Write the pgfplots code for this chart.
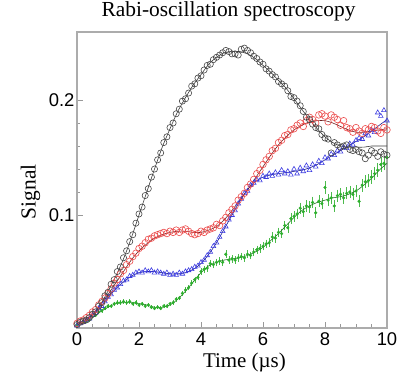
\documentclass[border=0pt]{standalone}
\usepackage{pgfplots}
\pgfplotsset{compat=1.18}
\usepackage{pgfplotstable}
\usepackage{fontspec}
\setmainfont{Liberation Serif}
\newfontfamily\tickfont{Liberation Sans}
\definecolor{cK}{RGB}{70,70,70}
\definecolor{cR}{RGB}{235,75,75}
\definecolor{cB}{RGB}{60,60,225}
\definecolor{cG}{RGB}{45,175,45}
\definecolor{fK}{RGB}{60,60,60}
\definecolor{fR}{RGB}{110,30,30}
\definecolor{fB}{RGB}{30,30,140}
\definecolor{fG}{RGB}{30,120,30}

\pgfplotstableread{
x y
0.0 .005
0.1 .007
0.2 .008
0.3 .009
0.4 .011
0.5 .014
0.6 .016
0.7 .021
0.8 .024
0.9 .030
1.0 .033
1.1 .040
1.2 .044
1.3 .051
1.4 .055
1.5 .063
1.6 .069
1.7 .077
1.8 .083
1.9 .093
2.0 .101
2.1 .107
2.2 .117
2.3 .123
2.4 .133
2.5 .140
2.6 .148
2.7 .154
2.8 .163
2.9 .168
3.0 .176
3.1 .180
3.2 .188
3.3 .192
3.4 .199
3.5 .201
3.6 .206
3.7 .212
3.8 .214
3.9 .219
4.0 .221
4.1 .226
4.2 .230
4.3 .231
4.4 .235
4.5 .237
4.6 .239
4.7 .241
4.8 .243
4.9 .242
5.0 .240
5.1 .240
5.2 .239
5.3 .244
5.4 .245
5.5 .243
5.6 .241
5.7 .238
5.8 .236
5.9 .233
6.0 .231
6.1 .227
6.2 .225
6.3 .222
6.4 .220
6.5 .216
6.6 .214
6.7 .212
6.8 .208
6.9 .203
7.0 .202
7.1 .199
7.2 .195
7.3 .190
7.4 .185
7.5 .183
7.6 .179
7.7 .176
7.8 .175
7.9 .170
8.0 .167
8.1 .166
8.2 .154
8.3 .163
8.4 .161
8.5 .159
8.6 .160
8.7 .161
8.8 .157
8.9 .156
9.0 .157
9.1 .155
9.2 .154
9.3 .149
9.4 .152
9.5 .156
9.6 .154
9.7 .151
9.8 .155
9.9 .153
10.0 .152
}\blackdata

\pgfplotstableread{
x y
0.0 .006
0.1 .008
0.2 .009
0.3 .011
0.4 .013
0.5 .016
0.6 .018
0.7 .022
0.8 .025
0.9 .028
1.0 .032
1.1 .036
1.2 .041
1.3 .044
1.4 .049
1.5 .052
1.6 .057
1.7 .060
1.8 .064
1.9 .067
2.0 .071
2.1 .073
2.2 .076
2.3 .079
2.4 .080
2.5 .082
2.6 .083
2.7 .084
2.8 .085
2.9 .084
3.0 .086
3.1 .085
3.2 .087
3.3 .085
3.4 .087
3.5 .088
3.6 .086
3.7 .084
3.8 .083
3.9 .084
4.0 .086
4.1 .085
4.2 .087
4.3 .088
4.4 .089
4.5 .092
4.6 .091
4.7 .095
4.8 .098
4.9 .102
5.0 .105
5.1 .108
5.2 .113
5.3 .116
5.4 .119
5.5 .124
5.6 .127
5.7 .131
5.8 .136
5.9 .139
6.0 .144
6.1 .148
6.2 .151
6.3 .156
6.4 .158
6.5 .163
6.6 .165
6.7 .169
6.8 .170
6.9 .174
7.0 .175
7.1 .178
7.2 .180
7.3 .177
7.4 .182
7.5 .185
7.6 .183
7.7 .180
7.8 .187
7.9 .188
8.0 .186
8.1 .181
8.2 .187
8.3 .185
8.4 .183
8.5 .178
8.6 .182
8.7 .176
8.8 .175
8.9 .172
9.0 .176
9.1 .173
9.2 .171
9.3 .175
9.4 .174
9.5 .177
9.6 .176
9.7 .173
9.8 .171
9.9 .176
10.0 .174
}\reddata

\pgfplotstableread{
x y
0.0 .004
0.1 .006
0.2 .007
0.3 .009
0.4 .010
0.5 .013
0.6 .015
0.7 .019
0.8 .021
0.9 .025
1.0 .029
1.1 .031
1.2 .035
1.3 .037
1.4 .040
1.5 .043
1.6 .044
1.7 .047
1.8 .048
1.9 .050
2.0 .051
2.1 .050
2.2 .052
2.3 .051
2.4 .052
2.5 .050
2.6 .051
2.7 .050
2.8 .049
2.9 .050
3.0 .048
3.1 .049
3.2 .048
3.3 .050
3.4 .049
3.5 .051
3.6 .052
3.7 .053
3.8 .055
3.9 .056
4.0 .059
4.1 .061
4.2 .065
4.3 .068
4.4 .073
4.5 .076
4.6 .081
4.7 .086
4.8 .090
4.9 .096
5.0 .100
5.1 .104
5.2 .110
5.3 .114
5.4 .119
5.5 .121
5.6 .126
5.7 .128
5.8 .131
5.9 .130
6.0 .134
6.1 .133
6.2 .136
6.3 .134
6.4 .137
6.5 .135
6.6 .139
6.7 .136
6.8 .138
6.9 .135
7.0 .140
7.1 .136
7.2 .141
7.3 .138
7.4 .143
7.5 .139
7.6 .144
7.7 .142
7.8 .147
7.9 .145
8.0 .150
8.1 .149
8.2 .153
8.3 .152
8.4 .156
8.5 .155
8.6 .159
8.7 .158
8.8 .162
8.9 .161
9.0 .165
9.1 .167
9.2 .166
9.3 .171
9.4 .169
9.5 .174
9.6 .172
9.7 .189
9.8 .186
9.9 .191
10.0 .182
}\bluedata

\pgfplotstableread{
x y
0.0 .005
0.1 .006
0.2 .007
0.3 .008
0.4 .009
0.5 .012
0.6 .013
0.7 .016
0.8 .017
0.9 .019
1.0 .021
1.1 .021
1.2 .023
1.3 .024
1.4 .024
1.5 .025
1.6 .024
1.7 .025
1.8 .023
1.9 .024
2.0 .022
2.1 .023
2.2 .021
2.3 .022
2.4 .020
2.5 .019
2.6 .020
2.7 .019
2.8 .021
2.9 .021
3.0 .023
3.1 .024
3.2 .027
3.3 .028
3.4 .032
3.5 .035
3.6 .037
3.7 .041
3.8 .044
3.9 .046
4.0 .051
4.1 .053
4.2 .054
4.3 .058
4.4 .057
4.5 .059
4.6 .060
4.7 .059
4.8 .066
4.9 .061
5.0 .062
5.1 .061
5.2 .063
5.3 .064
5.4 .063
5.5 .066
5.6 .065
5.7 .068
5.8 .070
5.9 .071
6.0 .073
6.1 .075
6.2 .076
6.3 .081
6.4 .080
6.5 .085
6.6 .084
6.7 .091
6.8 .089
6.9 .097
7.0 .099
7.1 .101
7.2 .106
7.3 .103
7.4 .108
7.5 .107
7.6 .111
7.7 .102
7.8 .112
7.9 .110
8.0 .124
8.1 .113
8.2 .115
8.3 .108
8.4 .117
8.5 .118
8.6 .115
8.7 .119
8.8 .120
8.9 .118
9.0 .121
9.1 .112
9.2 .126
9.3 .129
9.4 .130
9.5 .133
9.6 .136
9.7 .139
9.8 .144
9.9 .145
10.0 .150
}\greendata

\begin{document}
\begin{tikzpicture}
\begin{axis}[
  at={(0,0)}, anchor=south west,
  scale only axis, width=310bp, height=296bp,
  xmin=0, xmax=10, ymin=0.002, ymax=0.259,
  xtick={0,2,4,6,8,10}, ytick={0.1,0.2},
  minor x tick num=3, minor y tick num=4,
  xtick pos=bottom, ytick pos=left, tick align=inside,
  major tick length=6bp, minor tick length=3.5bp,
  tick style={gray!80, line width=0.8pt},
  axis line style={gray!65, line width=1.2pt},
  /pgf/number format/assume math mode=true,
  tick label style={font=\tickfont\fontsize{18.5}{20}\selectfont},
  xticklabel style={yshift=-1bp},
  yticklabel style={xshift=1bp},
  title={Rabi-oscillation spectroscopy},
  title style={font=\fontsize{21.5}{24}\selectfont, at={(axis description cs:0.489,1)}, anchor=base, yshift=10bp},
  xlabel={Time (µs)},
  xlabel style={font=\fontsize{21}{24}\selectfont, at={(axis description cs:0.54,-0.132)}, anchor=base},
  ylabel={Signal},
  ylabel style={font=\fontsize{21.5}{24}\selectfont, at={(axis description cs:-0.150,0.46)}, anchor=center},
  clip=true,
]
\addplot[only marks, mark=*, mark size=1.4bp, color=cG,
  error bars/.cd, y dir=both, y fixed relative=0.035, error bar style={cG!85, line width=0.5pt}, error mark options={cG!85, mark size=1.3bp, line width=0.5pt}]
  table[x=x,y=y]{\greendata};
\addplot[only marks, mark=triangle, mark size=2.7bp, color=cB, mark options={line width=0.6pt}]
  table[x=x,y=y]{\bluedata};
\addplot[only marks, mark=o, mark size=3.3bp, color=cR, mark options={line width=0.6pt}]
  table[x=x,y=y]{\reddata};
\addplot[only marks, mark=o, mark size=3.1bp, color=cK, mark options={line width=0.6pt}]
  table[x=x,y=y]{\blackdata};
% fits
\addplot[fG, line width=0.6pt, smooth, no marks] coordinates {
(0,.005) (0.25,.007) (0.5,.011) (0.75,.016) (1,.020) (1.25,.023) (1.5,.024) (1.75,.024) (2,.023) (2.25,.022) (2.5,.020) (2.75,.020) (3,.022) (3.25,.027) (3.5,.034) (3.75,.042) (4,.050) (4.25,.056) (4.5,.059) (4.75,.061) (5,.062) (5.25,.063) (5.5,.065) (5.75,.068) (6,.072) (6.25,.078) (6.5,.084) (6.75,.091) (7,.098) (7.25,.104) (7.5,.108) (7.75,.111) (8,.113) (8.25,.115) (8.5,.116) (8.75,.118) (9,.121) (9.25,.126) (9.5,.132) (9.75,.139) (10,.145)};
\addplot[fB, line width=0.6pt, smooth, no marks] coordinates {
(0,.005) (0.25,.008) (0.5,.013) (0.75,.020) (1,.028) (1.25,.036) (1.5,.042) (1.75,.047) (2,.050) (2.25,.051) (2.5,.051) (2.75,.050) (3,.049) (3.25,.049) (3.5,.050) (3.75,.053) (4,.058) (4.25,.066) (4.5,.076) (4.75,.088) (5,.100) (5.25,.112) (5.5,.122) (5.75,.129) (6,.133) (6.25,.135) (6.5,.136) (6.75,.137) (7,.138) (7.25,.139) (7.5,.141) (7.75,.144) (8,.148) (8.25,.152) (8.5,.156) (8.75,.160) (9,.164) (9.25,.168) (9.5,.173) (9.75,.178) (10,.183)};
\addplot[fR, line width=0.6pt, smooth, no marks] coordinates {
(0,.006) (0.25,.009) (0.5,.014) (0.75,.022) (1,.031) (1.25,.041) (1.5,.051) (1.75,.061) (2,.069) (2.25,.075) (2.5,.080) (2.75,.083) (3,.085) (3.25,.086) (3.5,.086) (3.75,.085) (4,.085) (4.25,.087) (4.5,.090) (4.75,.096) (5,.104) (5.25,.113) (5.5,.122) (5.75,.132) (6,.142) (6.25,.152) (6.5,.161) (6.75,.168) (7,.174) (7.25,.178) (7.5,.181) (7.75,.182) (8,.182) (8.25,.180) (8.5,.177) (8.75,.174) (9,.172) (9.25,.172) (9.5,.173) (9.75,.174) (10,.175)};
\addplot[fK, line width=0.6pt, smooth, no marks] coordinates {
(0,.006) (0.25,.008) (0.5,.013) (0.75,.022) (1,.034) (1.25,.047) (1.5,.062) (1.75,.080) (2,.100) (2.25,.120) (2.5,.140) (2.75,.159) (3,.175) (3.25,.190) (3.5,.202) (3.75,.213) (4,.222) (4.25,.231) (4.5,.237) (4.75,.241) (5,.242) (5.25,.242) (5.5,.240) (5.75,.236) (6,.230) (6.25,.224) (6.5,.217) (6.75,.210) (7,.201) (7.25,.192) (7.5,.183) (7.75,.175) (8,.168) (8.25,.163) (8.5,.160) (8.75,.159) (9,.159) (9.25,.159) (9.5,.160) (9.75,.160) (10,.160)};
\end{axis}
\pgfresetboundingbox
\path[use as bounding box] (-77bp,-47bp) rectangle (330bp,328bp);
\end{tikzpicture}
\end{document}
